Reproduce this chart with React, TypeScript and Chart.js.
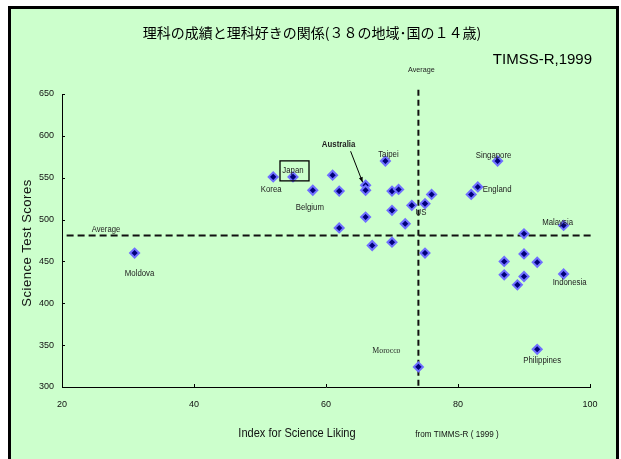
import React, { useEffect, useRef } from 'react';
import { Chart, registerables } from 'chart.js';

Chart.register(...registerables);

// ---- Data ----
const liking = [52, 55, 61, 58, 62, 66, 66, 69, 70, 71, 76, 75, 73, 70, 66, 72, 62, 67, 70, 75, 82, 83, 86, 96, 90, 90, 87, 92, 87, 90, 89, 96, 92, 74, 31];
const scores = [551, 551, 553, 535, 534, 541, 535, 570, 534, 536, 530, 519, 517, 511, 503, 495, 490, 469, 473, 460, 530, 539, 570, 493, 483, 459, 450, 449, 434, 432, 422, 435, 345, 324, 460];
const countries = ['Korea', 'Japan', '', 'Belgium', '', 'Australia', '', 'Taipei', '', '', '', 'US', '', '', '', '', '', '', '', '', '', 'England', 'Singapore', 'Malaysia', '', '', '', '', '', '', '', 'Indonesia', 'Philippines', 'Morocco', 'Moldova'];
const xTickValues = [20, 40, 60, 80, 100];
const yTickValues = [300, 350, 400, 450, 500, 550, 600, 650];
const averageLiking = 74;
const averageScore = 481;
const chartTitle = '理科の成績と理科好きの関係(３８の地域･国の１４歳)';
const sourceTag = 'TIMSS-R,1999';
const xTitle = 'Index for Science Liking';
const yTitle = 'Science Test Scores';
const sourceNote = 'from TIMMS-R ( 1999 )';
const averageText = 'Average';

const SANS = '"Liberation Sans", Arial, sans-serif';
const SERIF = '"Liberation Serif", "Times New Roman", serif';

// label placement relative to point (pixels)
const labelStyle: Record<string, { dx: number; dy: number; align?: CanvasTextAlign; font?: string }> = {
  Korea: { dx: -2, dy: 13 },
  Japan: { dx: 0, dy: -6 },
  Belgium: { dx: -3, dy: 17 },
  Australia: { dx: -27, dy: -41, font: `bold 8.5px ${SANS}` },
  Taipei: { dx: 3, dy: -6 },
  US: { dx: -4, dy: 9 },
  England: { dx: 5, dy: 3, align: 'left' },
  Singapore: { dx: -4, dy: -5 },
  Malaysia: { dx: -6, dy: -3 },
  Indonesia: { dx: 6, dy: 9 },
  Philippines: { dx: 5, dy: 11 },
  Morocco: { dx: -32, dy: -16, font: `8.5px ${SERIF}` },
  Moldova: { dx: 5, dy: 21 },
};

function txt(ctx: CanvasRenderingContext2D, s: string, x: number, y: number, font: string, align: CanvasTextAlign = 'center', sx = 1, color = '#111') {
  ctx.save();
  ctx.font = font;
  ctx.fillStyle = color;
  ctx.textAlign = align;
  ctx.textBaseline = 'middle';
  ctx.translate(x, y);
  ctx.scale(sx, 1);
  ctx.fillText(s, 0, 0);
  ctx.restore();
}

const overlay = {
  id: 'overlay',
  beforeDatasetsDraw(chart: any) {
    const { ctx, chartArea, scales } = chart;
    const xs = scales.x;
    const ys = scales.y;
    ctx.save();
    // inner ticks
    ctx.strokeStyle = '#000';
    ctx.lineWidth = 1;
    xTickValues.forEach((v) => {
      const px = Math.round(xs.getPixelForValue(v)) + 0.5;
      ctx.beginPath();
      ctx.moveTo(px, chartArea.bottom);
      ctx.lineTo(px, chartArea.bottom - 3);
      ctx.stroke();
    });
    yTickValues.forEach((v) => {
      const py = Math.round(ys.getPixelForValue(v)) + 0.5;
      ctx.beginPath();
      ctx.moveTo(chartArea.left, py);
      ctx.lineTo(chartArea.left + 3, py);
      ctx.stroke();
    });
    // average lines
    ctx.strokeStyle = '#111';
    ctx.lineWidth = 2;
    ctx.setLineDash([7, 4]);
    const ay = ys.getPixelForValue(averageScore);
    ctx.beginPath();
    ctx.moveTo(xs.getPixelForValue(20.7), ay);
    ctx.lineTo(xs.getPixelForValue(100.3), ay);
    ctx.stroke();
    ctx.setLineDash([6, 4]);
    const ax = xs.getPixelForValue(averageLiking);
    ctx.beginPath();
    ctx.moveTo(ax, ys.getPixelForValue(655));
    ctx.lineTo(ax, chartArea.bottom);
    ctx.stroke();
    ctx.restore();
  },
  afterDatasetsDraw(chart: any) {
    const { ctx, scales } = chart;
    const xs = scales.x;
    const ys = scales.y;
    // titles
    txt(ctx, chartTitle, 312, 33, `14px "Noto Sans CJK JP", sans-serif`, 'center', 1, '#000');
    txt(ctx, sourceTag, 592, 60, `15px ${SANS}`, 'right', 1, '#000');
    txt(ctx, averageText, xs.getPixelForValue(averageLiking) + 3, 70, `8px ${SANS}`, 'center', 0.9, '#222');
    txt(ctx, averageText, 106, ys.getPixelForValue(averageScore) - 6, `8.5px ${SANS}`, 'center', 0.9, '#222');
    txt(ctx, xTitle, 297, 433, `13px ${SANS}`, 'center', 0.85, '#111');
    txt(ctx, sourceNote, 457, 435, `9px ${SANS}`, 'center', 0.9, '#111');
    // y title rotated
    ctx.save();
    ctx.translate(27, 243);
    ctx.rotate(-Math.PI / 2);
    ctx.font = `13px ${SANS}`;
    (ctx as any).letterSpacing = '0.5px';
    ctx.fillStyle = '#111';
    ctx.textAlign = 'center';
    ctx.textBaseline = 'middle';
    ctx.fillText(yTitle, 0, 0);
    ctx.restore();

    // country labels
    countries.forEach((name, i) => {
      if (!name) return;
      const st = labelStyle[name] || { dx: 0, dy: -8 };
      const px = xs.getPixelForValue(liking[i]);
      const py = ys.getPixelForValue(scores[i]);
      txt(ctx, name, px + st.dx, py + st.dy, st.font || `8.5px ${SANS}`, st.align || 'center', 0.92, '#222');
      if (name === 'Japan') {
        ctx.save();
        ctx.strokeStyle = '#000';
        ctx.lineWidth = 1.3;
        ctx.strokeRect(px - 13, py - 16, 29, 20);
        ctx.restore();
      }
      if (name === 'Australia') {
        const x0 = px - 15, y0 = py - 34, x1 = px - 3, y1 = py - 3;
        ctx.save();
        ctx.strokeStyle = '#000';
        ctx.fillStyle = '#000';
        ctx.lineWidth = 1;
        ctx.beginPath();
        ctx.moveTo(x0, y0);
        ctx.lineTo(x1, y1);
        ctx.stroke();
        const ang = Math.atan2(y1 - y0, x1 - x0);
        ctx.beginPath();
        ctx.moveTo(x1, y1);
        ctx.lineTo(x1 - 5 * Math.cos(ang) + 2 * Math.sin(ang), y1 - 5 * Math.sin(ang) - 2 * Math.cos(ang));
        ctx.lineTo(x1 - 5 * Math.cos(ang) - 2 * Math.sin(ang), y1 - 5 * Math.sin(ang) + 2 * Math.cos(ang));
        ctx.closePath();
        ctx.fill();
        ctx.restore();
      }
    });
  },
};

export default function App() {
  const ref = useRef<HTMLCanvasElement>(null);
  useEffect(() => {
    if (!ref.current) return;
    const chart = new Chart(ref.current, {
      type: 'scatter',
      data: {
        datasets: [
          {
            data: liking.map((x, i) => ({ x, y: scores[i] })),
            pointStyle: 'rectRot',
            pointRadius: 4.5,
            pointBorderWidth: 2,
            backgroundColor: '#00007a',
            borderColor: '#6f6fff',
          },
        ],
      },
      options: {
        responsive: false,
        maintainAspectRatio: false,
        animation: false,
        events: [],
        layout: { padding: { left: 0, right: 31, top: 94, bottom: 0 } },
        plugins: { legend: { display: false }, tooltip: { enabled: false }, title: { display: false } },
        scales: {
          x: {
            type: 'linear',
            min: 20,
            max: 100,
            afterFit: (s: any) => { s.height = 72; },
            grid: { display: false, drawTicks: false },
            border: { display: true, color: '#000', width: 1 },
            ticks: { stepSize: 20, padding: 12, maxRotation: 0, color: '#111', font: { size: 9, family: SANS } },
          },
          y: {
            type: 'linear',
            min: 300,
            max: 650,
            afterFit: (s: any) => { s.width = 62; },
            grid: { display: false, drawTicks: false },
            border: { display: true, color: '#000', width: 1 },
            ticks: { stepSize: 50, padding: 8, color: '#111', font: { size: 9, family: SANS } },
          },
        },
      } as any,
      plugins: [overlay],
    });
    return () => chart.destroy();
  }, []);

  return (
    <div style={{ position: 'absolute', left: 0, top: 0, width: 621, height: 459, overflow: 'hidden' }}>
      <div
        style={{
          position: 'absolute',
          left: 8,
          top: 6,
          width: 611,
          height: 470,
          border: '3px solid #000',
          background: '#CCFFCC',
          boxSizing: 'border-box',
        }}
      />
      <canvas ref={ref} width={621} height={459} style={{ position: 'absolute', left: 0, top: 0, display: 'block' }} />
    </div>
  );
}
